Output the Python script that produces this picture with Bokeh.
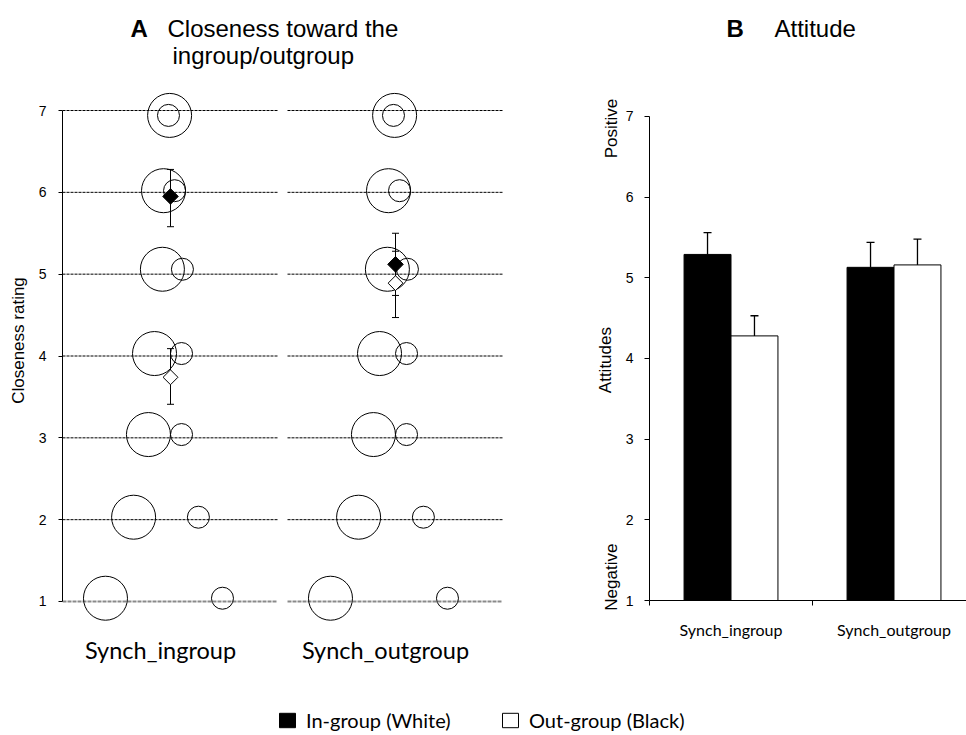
import numpy as np
from bokeh.plotting import figure
from bokeh.models import (Range1d, FixedTicker, Label, Whisker, TeeHead,
                          ColumnDataSource, Legend, LegendItem)
from bokeh.layouts import row, column
from bokeh.embed import file_html
from bokeh.resources import INLINE
from bokeh.core.properties import value

# ---------------- data ----------------
conditions = ["Synch_ingroup", "Synch_outgroup"]
groups = ["In-group (White)", "Out-group (Black)"]

# Panel A: IOS-style closeness scale (circle pairs for each rating)
ios_ratings = [1, 2, 3, 4, 5, 6, 7]
ios_y = [1.04, 2.03, 3.04, 4.03, 5.06, 6.02, 6.94]
ios_self_dx = [-0.289, -0.164, -0.098, -0.071, -0.036, -0.031, -0.004]
ios_other_dx = [0.231, 0.124, 0.049, 0.049, 0.053, 0.018, -0.009]

close_in_mean = [5.95, 5.12]
close_in_lo = [5.58, 4.74]
close_in_hi = [6.28, 5.50]
close_out_mean = [3.74, 4.89]
close_out_lo = [3.41, 4.47]
close_out_hi = [4.09, 5.28]

# Panel B: attitudes
att_ticks = [1, 2, 3, 4, 5, 6, 7]
att_in_mean = [5.29, 5.13]
att_in_hi = [5.56, 5.44]
att_out_mean = [4.28, 5.16]
att_out_hi = [4.53, 5.48]
att_side_labels = ["Positive", "Attitudes", "Negative"]
att_side_y = [6.85, 3.98, 1.29]

# ---------------- styles ----------------
ARIAL = "Liberation Sans"
CAL = "Lato"
xc = [i + 1 for i in range(len(conditions))]


def base_fig(**kw):
    f = figure(output_backend="svg", toolbar_location=None, min_border=0,
               outline_line_color=None, background_fill_color="white",
               border_fill_color="white", **kw)
    f.grid.visible = False
    f.frame_align = False
    return f


# ---------------- Panel A ----------------
pa = base_fig(width=560, height=680,
              x_range=Range1d(0.52, 0.52 + 498 / 225),
              y_range=Range1d(1 - 79 / 81.83, 7 + 110 / 81.83),
              x_axis_location=None, min_border_left=62)

half_l, half_r = 0.48, 0.4756
x0s, x1s, ys = [], [], []
for c in xc:
    for r in ios_ratings[1:]:
        x0s.append(c - half_l); x1s.append(c + half_r); ys.append(r)
pa.segment(x0=x0s, y0=ys, x1=x1s, y1=ys, line_color="black", line_width=1,
           line_dash="3 1")
b0 = [c - half_l for c in xc]
b1 = [c + half_r for c in xc]
pa.segment(x0=b0, y0=[ios_ratings[0]] * len(xc), x1=b1, y1=[ios_ratings[0]] * len(xc),
           line_color="#8a8a8a", line_width=2, line_dash="4 1")

self_x = [c + dx for c in xc for dx in ios_self_dx]
other_x = [c + dx for c in xc for dx in ios_other_dx]
cy = [y for c in xc for y in ios_y]
pa.scatter(self_x, cy, marker="circle", size=44, fill_color=None,
           line_color="black", line_width=1)
pa.scatter(other_x, cy, marker="circle", size=22, fill_color=None,
           line_color="black", line_width=1)

for lo, hi in [(close_in_lo, close_in_hi), (close_out_lo, close_out_hi)]:
    src = ColumnDataSource(dict(x=xc, lo=lo, hi=hi))
    pa.add_layout(Whisker(base="x", lower="lo", upper="hi", source=src,
                          dimension="height", level="underlay",
                          line_color="black", line_width=1,
                          upper_head=TeeHead(size=7, line_color="black", line_width=1),
                          lower_head=TeeHead(size=7, line_color="black", line_width=1)))

pa.scatter(xc, close_in_mean, marker="square", size=11, angle=np.pi / 4,
           fill_color="black", line_color="black", line_width=1)
pa.scatter(xc, close_out_mean, marker="square", size=10.5, angle=np.pi / 4,
           fill_color="white", line_color="black", line_width=1)

ya = pa.yaxis[0]
ya.ticker = FixedTicker(ticks=ios_ratings)
ya.bounds = (1, 7)
ya.axis_label = "Closeness rating"
ya.axis_label_text_font = ARIAL
ya.axis_label_text_font_size = "17px"
ya.axis_label_text_font_style = "normal"
ya.axis_label_text_color = "black"
ya.axis_label_standoff = 8
ya.major_label_text_font = ARIAL
ya.major_label_text_font_size = "14px"
ya.major_label_text_color = "black"
ya.major_tick_out = 4
ya.major_tick_in = 0
ya.minor_tick_out = 0
ya.minor_tick_in = 0
ya.major_label_standoff = 12
ya.axis_line_color = "black"
ya.major_tick_line_color = "black"

pa.text(x=xc, y=[ios_ratings[0]] * len(xc), text=conditions, x_offset=-10, y_offset=49,
        text_align="center", text_baseline="middle", text_font=value(CAL),
        text_font_size=value("23.5px"), text_color="black")

pa.add_layout(Label(x=68, y=652, x_units="screen", y_units="screen", text="A",
                    text_font=ARIAL, text_font_size="24px", text_font_style="bold",
                    text_baseline="alphabetic", text_color="black"))
pa.add_layout(Label(x=105, y=652, x_units="screen", y_units="screen",
                    text="Closeness toward the", text_font=ARIAL, text_font_size="24px",
                    text_baseline="alphabetic", text_color="black"))
pa.add_layout(Label(x=110, y=625, x_units="screen", y_units="screen",
                    text="ingroup/outgroup", text_font=ARIAL, text_font_size="24px",
                    text_baseline="alphabetic", text_color="black"))

# ---------------- Panel B ----------------
PXB = 80.67  # pixels per rating unit in panel B
yrB = (1, 1 + 600 / PXB)

# strip carrying the rotated side labels of panel B (same vertical scale)
ps = base_fig(width=62, height=680, x_range=Range1d(0, 1),
              y_range=Range1d(1 - 80 / PXB, 1 + 600 / PXB),
              x_axis_location=None, y_axis_location=None)
for txt, yv, xs in zip(att_side_labels, att_side_y, [51, 45, 51]):
    ps.add_layout(Label(x=xs, y=yv, x_units="screen", y_units="data", text=txt,
                        angle=np.pi / 2, text_align="center", text_baseline="middle",
                        text_font=ARIAL, text_font_size="17px", text_color="black"))

pb = base_fig(width=344, height=680,
              x_range=Range1d(0.5, 0.5 + 317 / 163), y_range=Range1d(*yrB),
              min_border_left=27, min_border_bottom=80)

dodge, bw = 0.144, 0.288
xin = [c - dodge for c in xc]
xout = [c + dodge for c in xc]
pb.vbar(x=xin, top=att_in_mean, bottom=att_ticks[0], width=bw, fill_color="black",
        line_color="black", line_width=1)
pb.vbar(x=xout, top=att_out_mean, bottom=att_ticks[0], width=bw, fill_color="white",
        line_color="black", line_width=1)
for xs, m, hi in [(xin, att_in_mean, att_in_hi), (xout, att_out_mean, att_out_hi)]:
    src = ColumnDataSource(dict(x=xs, lo=m, hi=hi))
    pb.add_layout(Whisker(base="x", lower="lo", upper="hi", source=src,
                          dimension="height", line_color="black", line_width=1.3,
                          upper_head=TeeHead(size=8, line_color="black", line_width=1.3),
                          lower_head=None))

xb = pb.xaxis[0]
xb.ticker = FixedTicker(ticks=xc, minor_ticks=[0.5, 1.5, 2.5])
xb.major_label_overrides = {c: n for c, n in zip(xc, conditions)}
xb.major_tick_out = 0
xb.major_tick_in = 0
xb.minor_tick_out = 5
xb.minor_tick_in = 0
xb.minor_tick_line_color = "black"
xb.axis_line_color = "black"
xb.major_label_text_font = CAL
xb.major_label_text_font_size = "16px"
xb.major_label_text_color = "black"
xb.major_label_standoff = 14

yb = pb.yaxis[0]
yb.ticker = FixedTicker(ticks=att_ticks)
yb.bounds = (1, 7)
yb.major_tick_out = 5
yb.major_tick_in = 0
yb.minor_tick_out = 0
yb.minor_tick_in = 0
yb.major_label_standoff = 11
yb.major_label_text_font = ARIAL
yb.major_label_text_font_size = "14px"
yb.major_label_text_color = "black"
yb.axis_line_color = "black"
yb.major_tick_line_color = "black"

pb.add_layout(Label(x=77, y=572, x_units="screen", y_units="screen", text="B",
                    text_font=ARIAL, text_font_size="24px", text_font_style="bold",
                    text_baseline="alphabetic", text_color="black"))
pb.add_layout(Label(x=125, y=572, x_units="screen", y_units="screen", text="Attitude",
                    text_font=ARIAL, text_font_size="24px",
                    text_baseline="alphabetic", text_color="black"))

# ---------------- Legend strip ----------------
pl = base_fig(width=966, height=55, x_range=Range1d(0, 1), y_range=Range1d(0, 1),
              x_axis_location=None, y_axis_location=None)
# legend proxies sit outside the visible range; only their legend swatches show
r_in = pl.vbar(x=[5], top=[1], bottom=[0], width=0.1, fill_color="black", line_color="black")
r_out = pl.vbar(x=[5], top=[1], bottom=[0], width=0.1, fill_color="white", line_color="black")
for r, lbl, lx in [(r_in, groups[0], 277), (r_out, groups[1], 500)]:
    pl.add_layout(Legend(items=[LegendItem(label=lbl, renderers=[r])],
                         location=(lx, 3), orientation="horizontal",
                         glyph_width=20, glyph_height=18, label_standoff=9,
                         label_text_font=CAL, label_text_font_size="20px",
                         label_text_color="black", border_line_color=None,
                         background_fill_alpha=0, padding=0, margin=0, spacing=0))

layout = column(row(pa, ps, pb), pl)
open("out.html", "w").write(file_html(layout, INLINE))
